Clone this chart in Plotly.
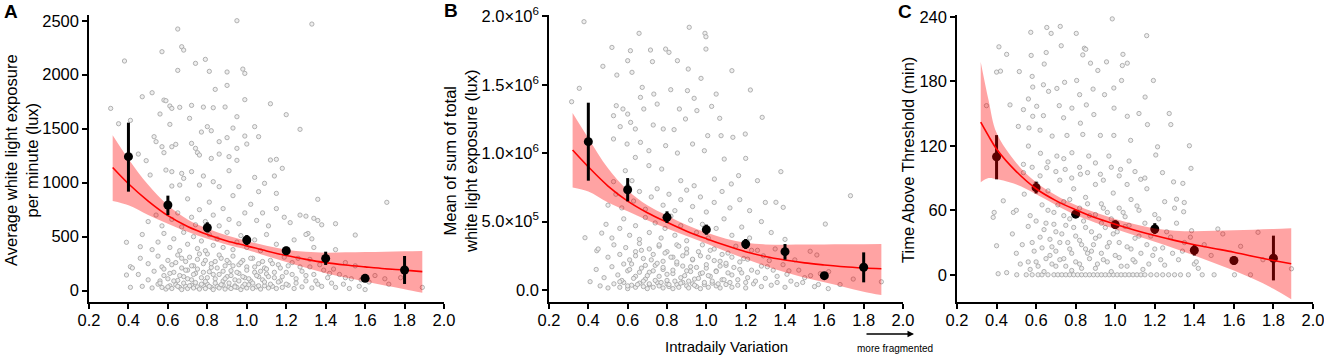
import plotly.graph_objects as go

W, H = 1324, 355
FONT = "Liberation Sans, Arial, sans-serif"

# ---------------- data ----------------
bin_x = [0.4, 0.6, 0.8, 1.0, 1.2, 1.4, 1.6, 1.8]

a_mean = [1241, 793, 583, 469, 370, 299, 114, 191]
a_lo = [917, 700, 540, 423, 330, 238, 84, 62]
a_hi = [1556, 880, 633, 515, 407, 361, 144, 321]

b_mean = [1084, 733, 531, 441, 336, 280, 105, 166]   # thousands of lux
b_lo = [799, 648, 490, 404, 300, 222, 81, 56]
b_hi = [1369, 818, 575, 478, 373, 336, 129, 275]

c_mean = [109.8, 81.0, 56.4, 46.6, 42.6, 22.8, 13.3, 15.4]
c_lo = [88.8, 75.6, 53.4, 42.6, 38.0, 17.9, 9.3, -5.2]
c_hi = [129.9, 86.4, 59.4, 50.6, 48.0, 27.8, 17.3, 36.4]

fit_x = [0.32, 0.4, 0.5, 0.6, 0.7, 0.8, 0.9, 1.0, 1.1, 1.2, 1.3, 1.4, 1.5, 1.6, 1.7, 1.8, 1.89]
a_fit = [1140, 990, 830, 695, 595, 520, 460, 415, 368, 325, 290, 260, 238, 220, 203, 190, 176]
a_up = [1440, 1220, 980, 790, 660, 575, 510, 460, 415, 380, 360, 352, 355, 358, 361, 364, 367]
a_dn = [830, 790, 700, 620, 545, 480, 425, 380, 320, 265, 212, 162, 122, 84, 48, 14, -19]

b_fit = [1023, 900, 760, 650, 565, 495, 430, 375, 325, 280, 245, 219, 198, 183, 170, 161, 155]
b_up = [1294, 1110, 890, 730, 620, 545, 475, 420, 375, 345, 333, 331, 332, 333, 334, 335, 336]
b_dn = [750, 720, 640, 575, 510, 450, 395, 340, 282, 226, 175, 129, 90, 56, 22, -12, -37]

c_fit_x = [0.32, 0.36, 0.4, 0.5, 0.6, 0.7, 0.8, 0.9, 1.0, 1.1, 1.2, 1.3, 1.4, 1.5, 1.6, 1.7, 1.8, 1.89]
c_fit = [142, 129, 117, 96, 80, 69, 60.5, 53, 47, 41.5, 36.5, 32, 28, 24.5, 21, 17, 13.3, 10.2]
c_up = [198, 162, 132, 104, 86, 74, 65, 58, 52, 47, 43, 41, 40.5, 41, 41.5, 42, 42.6, 43.2]
c_dn = [86, 90, 89, 84, 75, 65, 55.5, 48.5, 42.6, 36.5, 30.8, 24.5, 17.9, 11, 4, -4, -13, -22.8]

a_pts = [
    (0.95, 2500), (1.33, 2469), (0.65, 2423), (0.38, 2127), (0.57, 2213), (0.67, 2259), (0.68, 2228),
    (0.79, 2142), (0.74, 2105), (0.65, 2040), (0.81, 2031), (0.9, 2025), (0.98, 2052), (0.99, 2012),
    (0.84, 1864), (0.9, 1901), (0.52, 1833), (0.47, 1796), (0.58, 1765), (0.59, 1759), (0.61, 1710),
    (0.62, 1688), (0.66, 1698), (0.72, 1716), (0.78, 1700), (0.83, 1694), (0.99, 1769), (0.89, 1701),
    (1.12, 1731), (1.2, 1630), (0.31, 1688), (0.35, 1546), (0.41, 1577), (0.56, 1636), (0.61, 1540),
    (0.71, 1596), (0.8, 1519), (0.77, 1469), (0.82, 1481), (0.95, 1611), (0.93, 1506), (1.04, 1519),
    (1.27, 1494), (0.53, 1426), (0.54, 1380), (0.57, 1333), (0.58, 1278), (0.62, 1333), (0.64, 1355),
    (0.72, 1364), (0.74, 1318), (0.75, 1278), (0.76, 1256), (0.86, 1380), (0.9, 1417), (0.95, 1318),
    (0.99, 1432), (1.0, 1358), (1.06, 1426), (0.45, 1265), (0.49, 1204), (0.82, 1225), (0.86, 1265),
    (0.91, 1241), (0.95, 1207), (1.12, 1210), (1.15, 1216), (1.18, 1133), (0.51, 1071), (0.59, 1117),
    (0.62, 1102), (0.67, 1086), (0.68, 1040), (0.72, 1102), (0.78, 1062), (0.83, 1009), (0.91, 1111),
    (1.04, 1049), (1.09, 994), (1.14, 1062), (0.62, 969), (0.66, 978), (0.76, 978), (0.86, 963),
    (0.96, 963), (1.06, 917), (1.15, 901), (1.36, 846), (1.71, 818), (0.39, 448), (0.41, 222),
    (0.39, 145), (0.41, 31), (0.46, 407), (1.3, 690), (1.34, 670), (1.38, 610), (1.45, 620),
    (1.55, 515), (1.31, 530), (1.33, 480), (1.72, 60), (1.78, 120), (1.89, 30), (1.65, 140), (1.7, 110),
    (0.47, 40), (0.52, 25), (0.55, 60), (0.57, 30), (0.59, 15), (0.61, 45), (0.62, 20), (0.64, 55),
    (0.66, 30), (0.67, 10), (0.69, 40), (0.7, 20), (0.72, 50), (0.73, 25), (0.75, 35), (0.76, 15),
    (0.78, 45), (0.79, 20), (0.8, 60), (0.82, 30), (0.83, 10), (0.85, 40), (0.86, 25), (0.88, 50),
    (0.89, 15), (0.91, 35), (0.92, 20), (0.94, 45), (0.95, 30), (0.97, 10), (0.98, 40), (1.0, 25),
    (1.01, 55), (1.03, 20), (1.05, 35), (1.07, 15), (1.09, 45), (1.11, 25), (1.13, 40), (1.15, 20),
    (1.18, 30), (1.21, 50), (1.24, 20), (1.28, 35), (1.33, 25), (1.38, 40), (1.45, 30), (1.52, 20),
    (1.6, 10), (0.45, 150), (0.5, 100), (0.53, 180), (0.56, 90), (0.58, 140), (0.6, 110), (0.63, 170),
    (0.65, 95), (0.68, 130), (0.7, 190), (0.72, 100), (0.74, 160), (0.77, 120), (0.79, 85), (0.81, 175),
    (0.84, 110), (0.86, 150), (0.88, 90), (0.9, 130), (0.92, 185), (0.94, 100), (0.96, 160), (0.99, 120),
    (1.02, 90), (1.04, 170), (1.06, 130), (1.08, 100), (1.1, 155), (1.14, 120), (1.17, 90), (1.2, 170),
    (1.25, 110), (1.3, 140), (1.35, 90), (1.42, 160), (1.5, 120), (1.58, 100), (0.42, 210),
    (0.46, 300), (0.5, 250), (0.55, 320), (0.57, 220), (0.6, 280), (0.62, 240), (0.65, 330), (0.67, 210),
    (0.69, 270), (0.71, 310), (0.73, 230), (0.75, 290), (0.78, 250), (0.8, 340), (0.82, 215), (0.84, 270),
    (0.87, 300), (0.89, 230), (0.91, 260), (0.93, 320), (0.96, 240), (0.98, 280), (1.0, 220), (1.03, 300),
    (1.06, 250), (1.09, 210), (1.12, 280), (1.16, 240), (1.19, 310), (1.23, 260), (1.27, 220), (1.32, 290),
    (1.37, 240), (1.44, 200), (1.5, 260), (1.55, 230), (0.47, 520), (0.52, 380), (0.55, 450), (0.58, 530),
    (0.61, 400), (0.63, 480), (0.66, 370), (0.68, 540), (0.7, 430), (0.73, 500), (0.75, 390), (0.77, 460),
    (0.79, 370), (0.81, 520), (0.83, 420), (0.85, 480), (0.88, 400), (0.9, 540), (0.93, 380), (0.95, 450),
    (0.97, 510), (1.0, 400), (1.04, 470), (1.07, 370), (1.1, 520), (1.15, 430), (1.2, 380), (1.24, 470),
    (1.3, 520), (1.34, 400), (1.45, 380), (0.5, 640), (0.54, 700), (0.57, 600), (0.6, 780), (0.62, 660),
    (0.65, 720), (0.67, 590), (0.7, 850), (0.72, 680), (0.74, 610), (0.76, 750), (0.79, 640), (0.81, 820),
    (0.83, 700), (0.86, 600), (0.88, 760), (0.91, 660), (0.93, 880), (0.96, 620), (0.99, 720), (1.02, 800),
    (1.05, 650), (1.08, 720), (1.11, 600), (1.15, 760), (1.19, 680), (1.22, 630), (1.27, 700), (1.36, 650),
    (0.56, 70), (0.58, 200), (0.6, 35), (0.61, 160), (0.63, 90), (0.64, 260), (0.65, 40), (0.66, 140),
    (0.67, 300), (0.68, 70), (0.69, 190), (0.7, 110), (0.71, 45), (0.72, 230), (0.73, 150), (0.74, 75),
    (0.75, 200), (0.76, 340), (0.77, 60), (0.78, 170), (0.79, 280), (0.8, 120), (0.81, 40), (0.82, 250),
    (0.83, 150), (0.84, 70), (0.85, 210), (0.86, 330), (0.87, 55), (0.88, 180), (0.89, 110), (0.9, 280),
    (0.91, 70), (0.92, 140), (0.93, 230), (0.94, 35), (0.95, 170), (0.96, 90), (0.97, 260), (0.98, 130),
    (0.99, 60), (1.0, 190), (1.01, 110), (1.02, 300), (1.03, 70), (1.04, 220), (1.05, 140), (1.06, 45),
    (1.07, 180), (1.08, 270), (1.09, 80), (1.1, 200), (1.11, 130), (1.12, 60), (1.13, 250), (1.14, 170),
    (1.16, 80), (1.17, 210), (1.18, 130), (1.2, 60), (1.21, 230), (1.23, 150), (1.25, 70), (1.26, 300),
    (1.28, 180), (1.3, 90), (1.32, 220), (1.34, 150), (1.36, 60), (1.39, 190), (1.41, 120), (1.43, 70),
    (1.47, 150), (1.49, 60), (1.53, 110), (1.57, 40), (1.62, 80),
]

b_pts = [  # thousands of lux
    (0.378, 1961), (0.913, 1920), (0.658, 1876), (0.993, 1876), (0.998, 1851), (0.52, 1773), (0.614, 1749),
    (0.793, 1761), (0.81, 1737), (0.998, 1761), (0.716, 1754), (0.6, 1676), (0.726, 1669), (0.853, 1676),
    (0.474, 1635), (0.908, 1615), (1.13, 1603), (0.545, 1571), (0.622, 1591), (0.973, 1547), (0.354, 1474),
    (0.674, 1481), (0.733, 1432), (0.819, 1464), (0.904, 1457), (1.05, 1432), (1.224, 1462), (0.665, 1408),
    (0.938, 1401), (0.315, 1376), (0.542, 1347), (0.576, 1323), (0.6, 1286), (0.528, 1274), (0.682, 1323),
    (0.75, 1359), (0.863, 1323), (0.952, 1311), (1.027, 1342), (1.068, 1255), (1.284, 1262), (0.615, 1225),
    (0.562, 1194), (0.639, 1177), (0.73, 1206), (0.781, 1177), (0.836, 1172), (0.894, 1250), (1.007, 1128),
    (1.075, 1128), (1.135, 1116), (1.198, 1140), (0.528, 1104), (0.597, 1067), (0.665, 1079), (0.708, 1018),
    (0.793, 1055), (0.853, 1001), (0.93, 1067), (0.99, 1018), (1.091, 957), (1.2, 962), (0.639, 969),
    (0.708, 909), (0.773, 884), (1.379, 865), (0.528, 792), (0.588, 872), (0.622, 799), (0.87, 799),
    (0.938, 762), (1.041, 811), (1.127, 775), (1.164, 836), (1.26, 799), (1.733, 689), (1.354, 641),
    (1.391, 604), (0.383, 382), (0.409, 61), (0.468, 416), (0.443, 287), (1.605, 482), (1.528, 283),
    (1.562, 256), (1.622, 134), (1.747, 80), (1.89, 60), (1.68, 40),
    (0.46, 30), (0.5, 15), (0.53, 45), (0.56, 20), (0.58, 55), (0.6, 10), (0.62, 35), (0.64, 20), (0.66, 50),
    (0.68, 25), (0.7, 10), (0.71, 40), (0.73, 20), (0.75, 55), (0.76, 30), (0.78, 15), (0.8, 45), (0.81, 25),
    (0.83, 10), (0.85, 40), (0.86, 20), (0.88, 55), (0.9, 30), (0.91, 15), (0.93, 45), (0.95, 25), (0.97, 10),
    (0.99, 40), (1.01, 20), (1.03, 50), (1.05, 30), (1.07, 15), (1.1, 40), (1.13, 20), (1.16, 35), (1.2, 15),
    (1.24, 45), (1.28, 25), (1.33, 35), (1.4, 20), (1.46, 40), (1.55, 25), (1.62, 10),
    (0.44, 150), (0.48, 90), (0.52, 170), (0.55, 110), (0.57, 70), (0.6, 140), (0.62, 190), (0.64, 100),
    (0.67, 160), (0.69, 80), (0.71, 130), (0.74, 180), (0.76, 100), (0.78, 150), (0.8, 70), (0.83, 120),
    (0.85, 190), (0.87, 90), (0.9, 140), (0.92, 170), (0.94, 80), (0.97, 120), (1.0, 160), (1.02, 100),
    (1.05, 140), (1.08, 75), (1.1, 180), (1.13, 110), (1.17, 150), (1.21, 90), (1.26, 130), (1.31, 170),
    (1.36, 100), (1.42, 140), (1.5, 90), (1.58, 120),
    (0.45, 300), (0.5, 240), (0.53, 330), (0.56, 260), (0.59, 310), (0.61, 220), (0.64, 280), (0.66, 340),
    (0.68, 230), (0.71, 300), (0.73, 260), (0.76, 320), (0.78, 210), (0.8, 280), (0.83, 240), (0.85, 330),
    (0.88, 250), (0.9, 300), (0.93, 220), (0.96, 280), (0.98, 330), (1.01, 240), (1.04, 300), (1.07, 210),
    (1.11, 270), (1.15, 320), (1.19, 230), (1.23, 290), (1.29, 250), (1.35, 300), (1.45, 220),
    (0.49, 480), (0.52, 380), (0.56, 450), (0.58, 520), (0.61, 400), (0.64, 470), (0.66, 370), (0.69, 530),
    (0.71, 420), (0.74, 490), (0.77, 380), (0.79, 450), (0.82, 540), (0.84, 400), (0.87, 470), (0.9, 360),
    (0.92, 510), (0.95, 420), (0.98, 480), (1.01, 380), (1.05, 450), (1.09, 520), (1.13, 400), (1.18, 460),
    (1.22, 380), (1.28, 500), (1.33, 420), (1.4, 370),
    (0.5, 620), (0.54, 700), (0.57, 600), (0.6, 760), (0.63, 650), (0.66, 720), (0.69, 590), (0.72, 680),
    (0.75, 740), (0.78, 620), (0.81, 700), (0.84, 580), (0.87, 660), (0.9, 730), (0.93, 610), (0.97, 680),
    (1.0, 570), (1.04, 640), (1.08, 720), (1.12, 600), (1.17, 660), (1.22, 580), (1.3, 640),
    (0.56, 60), (0.58, 190), (0.6, 30), (0.61, 150), (0.63, 85), (0.64, 250), (0.65, 40), (0.66, 130),
    (0.67, 290), (0.68, 65), (0.69, 180), (0.7, 105), (0.71, 45), (0.72, 220), (0.73, 140), (0.74, 70),
    (0.75, 195), (0.76, 330), (0.77, 55), (0.78, 165), (0.79, 270), (0.8, 115), (0.81, 40), (0.82, 240),
    (0.83, 145), (0.84, 65), (0.85, 205), (0.86, 320), (0.87, 50), (0.88, 175), (0.89, 105), (0.9, 270),
    (0.91, 65), (0.92, 135), (0.93, 225), (0.94, 35), (0.95, 165), (0.96, 85), (0.97, 250), (0.98, 125),
    (0.99, 55), (1.0, 185), (1.01, 105), (1.02, 290), (1.03, 65), (1.04, 215), (1.05, 135), (1.06, 45),
    (1.07, 175), (1.08, 260), (1.09, 75), (1.1, 195), (1.11, 125), (1.12, 55), (1.13, 240), (1.14, 165),
    (1.16, 75), (1.17, 205), (1.18, 125), (1.2, 55), (1.21, 225), (1.23, 145), (1.25, 65), (1.26, 290),
    (1.28, 175), (1.3, 85), (1.32, 215), (1.34, 145), (1.36, 55), (1.39, 185), (1.41, 115), (1.43, 65),
    (1.47, 145), (1.49, 55), (1.53, 105), (1.57, 40),
]

c_pts = [
    (0.985, 238), (0.676, 224.5), (0.722, 231), (0.803, 224.5), (0.573, 225.5), (0.654, 230), (1.159, 222.4),
    (0.727, 213), (0.412, 212), (0.451, 205), (0.575, 204), (0.651, 206.7), (0.844, 210.7), (0.851, 209.7),
    (0.836, 204.5), (0.875, 196.8), (0.956, 198), (1.039, 205), (1.061, 196.8), (1.036, 194.6), (0.515, 189),
    (0.4, 188.5), (0.42, 189.4), (0.58, 184.5), (0.641, 196), (0.744, 179), (0.805, 180.7), (0.912, 190),
    (1.032, 180.7), (1.193, 180.7), (0.637, 176.7), (0.583, 174.6), (0.663, 170.6), (0.705, 173.3),
    (0.82, 167.5), (0.888, 172.7), (0.946, 167.5), (0.993, 173.7), (1.151, 165.3), (0.468, 158),
    (0.349, 157.3), (0.561, 163.5), (0.603, 156.7), (0.717, 157.3), (0.781, 155), (0.854, 158), (0.994, 155),
    (1.12, 150), (1.273, 150), (0.536, 153.6), (0.583, 147.4), (0.637, 148), (0.739, 146), (0.824, 141),
    (0.892, 149), (1.061, 147.4), (1.163, 139.7), (1.281, 139.7), (0.51, 138), (0.564, 136.6), (0.62, 134.5),
    (0.681, 129), (0.756, 129.6), (0.836, 130.5), (0.925, 129.6), (0.993, 129.6), (1.078, 125), (1.375, 120),
    (1.214, 119), (0.561, 119.7), (0.622, 113), (0.705, 110.4), (0.781, 113.5), (0.866, 110.4), (0.968, 110.4),
    (1.07, 105.8), (1.205, 111.4), (0.536, 102.7), (0.536, 95), (0.654, 99.6), (0.747, 98), (0.824, 93.5),
    (0.925, 93.5), (1.027, 98), (1.129, 88.8), (1.239, 95), (1.383, 99), (1.295, 86.4), (1.342, 85),
    (0.434, 68.8), (0.388, 58), (0.383, 53.4), (0.485, 58), (1.31, 70.3), (1.349, 67.2), (1.346, 58.6),
    (0.4, 27), (0.408, 1), (0.451, 2), (0.502, 0), (1.386, 41), (1.519, 42.6), (1.544, 38), (1.722, 39.5),
    (1.634, 26.5), (1.603, 0), (1.684, 0), (1.891, 5.6), (1.747, 14), (1.4, 10), (1.485, 18),
    (0.55, 0), (0.58, 0), (0.61, 0), (0.63, 0), (0.66, 0), (0.69, 0), (0.71, 0), (0.73, 0), (0.75, 0),
    (0.77, 0), (0.79, 0), (0.81, 0), (0.83, 0), (0.85, 0), (0.87, 0), (0.89, 0), (0.91, 0), (0.93, 0),
    (0.95, 0), (0.97, 0), (0.99, 0), (1.01, 0), (1.03, 0), (1.05, 0), (1.07, 0), (1.09, 0), (1.11, 0),
    (1.13, 0), (1.15, 0), (1.18, 0), (1.21, 0), (1.24, 0), (1.27, 0), (1.3, 0), (1.33, 0), (1.37, 0),
    (1.44, 0), (1.5, 0),
    (0.57, 5), (0.6, 12), (0.64, 3), (0.67, 18), (0.7, 8), (0.74, 15), (0.78, 4), (0.82, 10), (0.86, 20),
    (0.9, 6), (0.94, 14), (0.98, 3), (1.02, 16), (1.06, 8), (1.1, 12), (1.14, 5), (1.19, 18), (1.25, 9),
    (1.32, 14), (1.42, 6), (0.52, 10), (0.5, 20),
    (0.48, 38), (0.53, 28), (0.56, 45), (0.59, 22), (0.62, 35), (0.65, 48), (0.68, 26), (0.7, 40), (0.72, 30),
    (0.75, 46), (0.77, 24), (0.8, 36), (0.83, 28), (0.85, 44), (0.88, 22), (0.9, 34), (0.93, 48), (0.96, 26),
    (0.99, 38), (1.02, 30), (1.05, 45), (1.08, 24), (1.12, 36), (1.16, 28), (1.2, 42), (1.24, 25), (1.28, 35),
    (1.35, 30), (1.45, 28),
    (0.5, 60), (0.54, 75), (0.57, 55), (0.6, 85), (0.63, 65), (0.66, 78), (0.69, 58), (0.72, 88), (0.74, 68),
    (0.77, 52), (0.79, 80), (0.82, 62), (0.85, 72), (0.87, 55), (0.9, 84), (0.93, 66), (0.96, 58), (0.99, 76),
    (1.02, 62), (1.05, 54), (1.08, 70), (1.12, 60), (1.16, 80), (1.2, 56), (1.25, 68), (1.3, 62),
    (0.56, 12), (0.58, 30), (0.6, 50), (0.61, 8), (0.63, 25), (0.64, 42), (0.65, 15), (0.66, 60), (0.67, 33),
    (0.68, 10), (0.69, 47), (0.7, 22), (0.71, 65), (0.72, 14), (0.73, 38), (0.74, 55), (0.75, 8), (0.76, 30),
    (0.77, 70), (0.78, 20), (0.79, 44), (0.8, 12), (0.81, 58), (0.82, 32), (0.83, 6), (0.84, 50), (0.85, 24),
    (0.86, 66), (0.87, 15), (0.88, 40), (0.89, 28), (0.9, 56), (0.91, 10), (0.92, 36), (0.93, 20), (0.94, 62),
    (0.95, 44), (0.96, 12), (0.97, 30), (0.98, 52), (1.0, 18), (1.01, 40), (1.03, 8), (1.04, 58), (1.06, 26),
    (1.07, 46), (1.09, 14), (1.1, 34), (1.11, 64), (1.13, 20), (1.15, 48), (1.17, 10), (1.18, 36), (1.2, 24),
    (1.22, 52), (1.23, 14), (1.26, 40), (1.29, 20), (1.31, 48), (1.34, 22), (1.38, 35), (1.41, 12),
    (0.58, 100), (0.62, 92), (0.66, 105), (0.7, 96), (0.74, 108), (0.78, 90), (0.82, 100), (0.86, 95),
    (0.9, 104), (0.94, 88), (0.98, 100), (1.02, 92), (1.06, 84), (1.1, 96), (1.15, 90),
]

x_ticks = [0.2, 0.4, 0.6, 0.8, 1.0, 1.2, 1.4, 1.6, 1.8, 2.0]
a_yticks = [0, 500, 1000, 1500, 2000, 2500]
b_yticks = [0, 500000, 1000000, 1500000, 2000000]
b_yticktext = ["0.0", "5.0×10<sup>5</sup>", "1.0×10<sup>6</sup>", "1.5×10<sup>6</sup>", "2.0×10<sup>6</sup>"]
c_yticks = [0, 60, 120, 180, 240]

# ---------------- figure ----------------
fig = go.Figure()

def px(x):  # page pixel -> paper fraction
    return x / W

def py(y):
    return 1 - y / H

panels = [
    dict(xa="x", ya="y", dom=(89, 444), yr=(-105, 2553)),
    dict(xa="x2", ya="y2", dom=(549, 903), yr=(-87700, 2010000)),
    dict(xa="x3", ya="y3", dom=(957, 1313), yr=(-25.3, 241.6)),
]

GRAY = dict(size=4.3, color="#eeeeee", line=dict(color="#a0a0a0", width=0.8))
BAND = "rgba(255,0,0,0.36)"

def add_panel(i, pts, scale, fx, fit, up, dn, mean, lo, hi, points_under_band=False):
    xa, ya = panels[i]["xa"], panels[i]["ya"]
    fig.add_trace(go.Scatter(x=[p[0] for p in pts], y=[p[1] * scale for p in pts], mode="markers",
                             marker=GRAY, xaxis=xa, yaxis=ya, hoverinfo="skip", showlegend=False))
    err = go.Scatter(x=bin_x, y=[m * scale for m in mean], mode="markers",
                     marker=dict(size=9, color="black"),
                     error_y=dict(type="data", symmetric=False,
                                  array=[(h - m) * scale for h, m in zip(hi, mean)],
                                  arrayminus=[(m - l) * scale for m, l in zip(mean, lo)],
                                  thickness=3, width=0, color="black"),
                     xaxis=xa, yaxis=ya, showlegend=False)
    if points_under_band:
        fig.add_trace(err)
    fig.add_trace(go.Scatter(x=fx, y=[v * scale for v in dn], mode="lines",
                             line=dict(width=0, shape="spline", color="rgba(0,0,0,0)"),
                             xaxis=xa, yaxis=ya, hoverinfo="skip", showlegend=False))
    fig.add_trace(go.Scatter(x=fx, y=[v * scale for v in up], mode="lines", fill="tonexty",
                             fillcolor=BAND, line=dict(width=0, shape="spline", color="rgba(0,0,0,0)"),
                             xaxis=xa, yaxis=ya, hoverinfo="skip", showlegend=False))
    fig.add_trace(go.Scatter(x=fx, y=[v * scale for v in fit], mode="lines",
                             line=dict(color="#ff0000", width=1.6, shape="spline"),
                             xaxis=xa, yaxis=ya, showlegend=False))
    if not points_under_band:
        fig.add_trace(err)

add_panel(0, a_pts, 1, fit_x, a_fit, a_up, a_dn, a_mean, a_lo, a_hi)
add_panel(1, b_pts, 1000, fit_x, b_fit, b_up, b_dn, b_mean, b_lo, b_hi)
add_panel(2, c_pts, 1, c_fit_x, c_fit, c_up, c_dn, c_mean, c_lo, c_hi, points_under_band=True)

axis_common = dict(showline=True, linecolor="black", linewidth=1.5, ticks="outside", ticklen=5,
                   tickwidth=1.5, tickcolor="black", showgrid=False, zeroline=False, automargin=False,
                   ticklabeloverflow="allow",
                   tickfont=dict(family=FONT, size=16.5, color="black"))

ytop, ybot = 15, 302
layout_axes = {}
for i, p in enumerate(panels):
    sfx = "" if i == 0 else str(i + 1)
    layout_axes["xaxis" + sfx] = dict(axis_common, domain=[px(p["dom"][0]), px(p["dom"][1])],
                                      range=[0.2, 2.0], tickvals=x_ticks,
                                      ticktext=[f"{t:.1f}" for t in x_ticks],
                                      ticklabelstandoff=-3, anchor="y" + sfx)
    layout_axes["yaxis" + sfx] = dict(axis_common, domain=[py(ybot), py(ytop)], range=list(p["yr"]),
                                      anchor="x" + sfx)
layout_axes["yaxis"]["tickvals"] = a_yticks
layout_axes["yaxis2"]["tickvals"] = b_yticks
layout_axes["yaxis2"]["ticktext"] = b_yticktext
layout_axes["yaxis3"]["tickvals"] = c_yticks

fig.update_layout(template="none", width=W, height=H,
                  margin=dict(l=0, r=0, t=0, b=0, pad=0, autoexpand=False), autosize=False,
                  plot_bgcolor="white", paper_bgcolor="white", font=dict(family=FONT, color="black"),
                  **layout_axes)

ann = []
def note(text, x, y, size, **kw):
    d = dict(text=text, x=px(x), y=py(y), xref="paper", yref="paper", showarrow=False,
             xanchor="center", yanchor="middle", font=dict(family=FONT, size=size, color="black"))
    d.update(kw)
    ann.append(d)

for label, x, y in [("A", 11, 12), ("B", 451, 11), ("C", 905, 12)]:
    note(f"<b>{label}</b>", x, y, 19)
note("Average white light exposure<br>per minute (lux)", 21, 160, 16.5, textangle=-90)
note("Mean of sum of total<br>white light exposure (lux)", 460, 161, 16.5, textangle=-90)
note("Time Above Threshold (min)", 908, 160, 16.5, textangle=-90)
note("Intradaily Variation", 726, 346, 15)
note("more fragmented", 895, 348.5, 10)
ann.append(dict(text="", x=px(914), y=py(334), xref="paper", yref="paper", showarrow=True,
                ax=-49, ay=0, arrowhead=2, arrowsize=1, arrowwidth=1.3, arrowcolor="black"))
fig.update_layout(annotations=ann)

fig.write_html("out.html", config={"displayModeBar": False},
               post_script="document.body.style.margin='0';document.body.style.padding='0';")
